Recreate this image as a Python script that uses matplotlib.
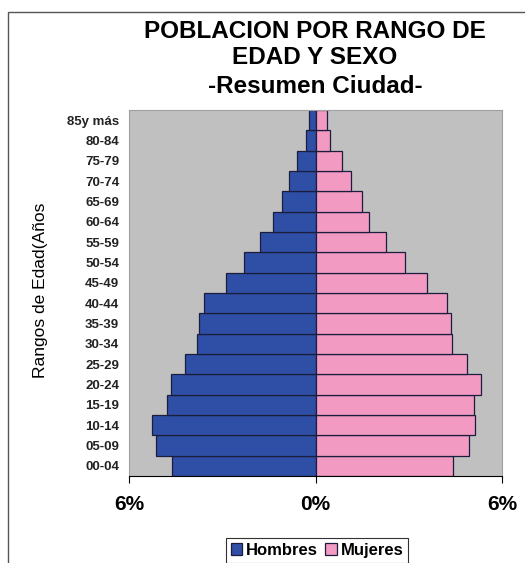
from matplotlib import pyplot as plt
from matplotlib.patches import Rectangle
import numpy as np

rangos = ["00-04", "05-09", "10-14", "15-19", "20-24", "25-29", "30-34",
          "35-39", "40-44", "45-49", "50-54", "55-59", "60-64", "65-69",
          "70-74", "75-79", "80-84", "85y más"]
hombres = [4.63, 5.12, 5.26, 4.79, 4.65, 4.21, 3.80, 3.75, 3.58, 2.89,
           2.30, 1.77, 1.37, 1.09, 0.84, 0.59, 0.32, 0.21]
mujeres = [4.42, 4.93, 5.14, 5.10, 5.31, 4.88, 4.39, 4.36, 4.23, 3.59,
           2.88, 2.27, 1.71, 1.51, 1.15, 0.84, 0.48, 0.37]
xticks = [-6, 0, 6]
xticklabels = ["6%", "0%", "6%"]

plt.rcParams['font.family'] = ['Liberation Sans', 'DejaVu Sans']

fig = plt.figure(figsize=(5.25, 5.63), dpi=100)
ax = fig.add_axes([129 / 525, 87 / 563, 373 / 525, 366 / 563])

y = np.arange(len(rangos))
ax.barh(y, -np.array(hombres), height=1.0, color="#2f4fa6",
        edgecolor="#1c1c3c", linewidth=0.9, label="Hombres")
ax.barh(y, mujeres, height=1.0, color="#f29ac2",
        edgecolor="#1c1c3c", linewidth=0.9, label="Mujeres")

ax.set_facecolor("#c0c0c0")
ax.set_xlim(-6, 6)
ax.set_ylim(-0.5, len(rangos) - 0.5)
ax.set_yticks(y)
ax.set_yticklabels(rangos, fontsize=9.5, fontweight='bold', color="#222222")
ax.tick_params(axis='y', length=0, pad=7)
ax.set_xticks(xticks)
ax.set_xticklabels(xticklabels, fontsize=15, fontweight='bold')
ax.tick_params(axis='x', length=5, pad=9, direction='out')
for s in ["top", "right", "left"]:
    ax.spines[s].set_color("#a0a0a0")
    ax.spines[s].set_linewidth(0.8)
ax.spines["bottom"].set_color("black")

fig.text(40 / 525, 1 - 290 / 563, "Rangos de Edad(Años", rotation=90,
         ha='center', va='center', fontsize=12.5)

fig.text(315 / 525, 1 - 31 / 563, "POBLACION POR RANGO DE", ha='center',
         va='center', fontsize=17.5, fontweight='bold')
fig.text(315 / 525, 1 - 58 / 563, "EDAD Y SEXO", ha='center',
         va='center', fontsize=17.5, fontweight='bold')
fig.text(315 / 525, 1 - 86 / 563, "-Resumen Ciudad-", ha='center',
         va='center', fontsize=17.5, fontweight='bold')

leg = fig.legend(loc='upper center', bbox_to_anchor=(317 / 525, 1 - 538 / 563),
                 ncol=2, prop={'weight': 'bold', 'size': 12},
                 handlelength=0.7, handleheight=0.7, handletextpad=0.25,
                 columnspacing=0.4, fancybox=False, framealpha=1,
                 edgecolor="#333333", borderpad=0.3, borderaxespad=0)
leg.get_frame().set_linewidth(0.8)

fig.patches.append(Rectangle((8 / 525, -0.1), 1.0, 1.1 - 12 / 563,
                             transform=fig.transFigure, fill=False,
                             edgecolor="#555555", linewidth=1.0))

plt.savefig("out.png", dpi=100)
